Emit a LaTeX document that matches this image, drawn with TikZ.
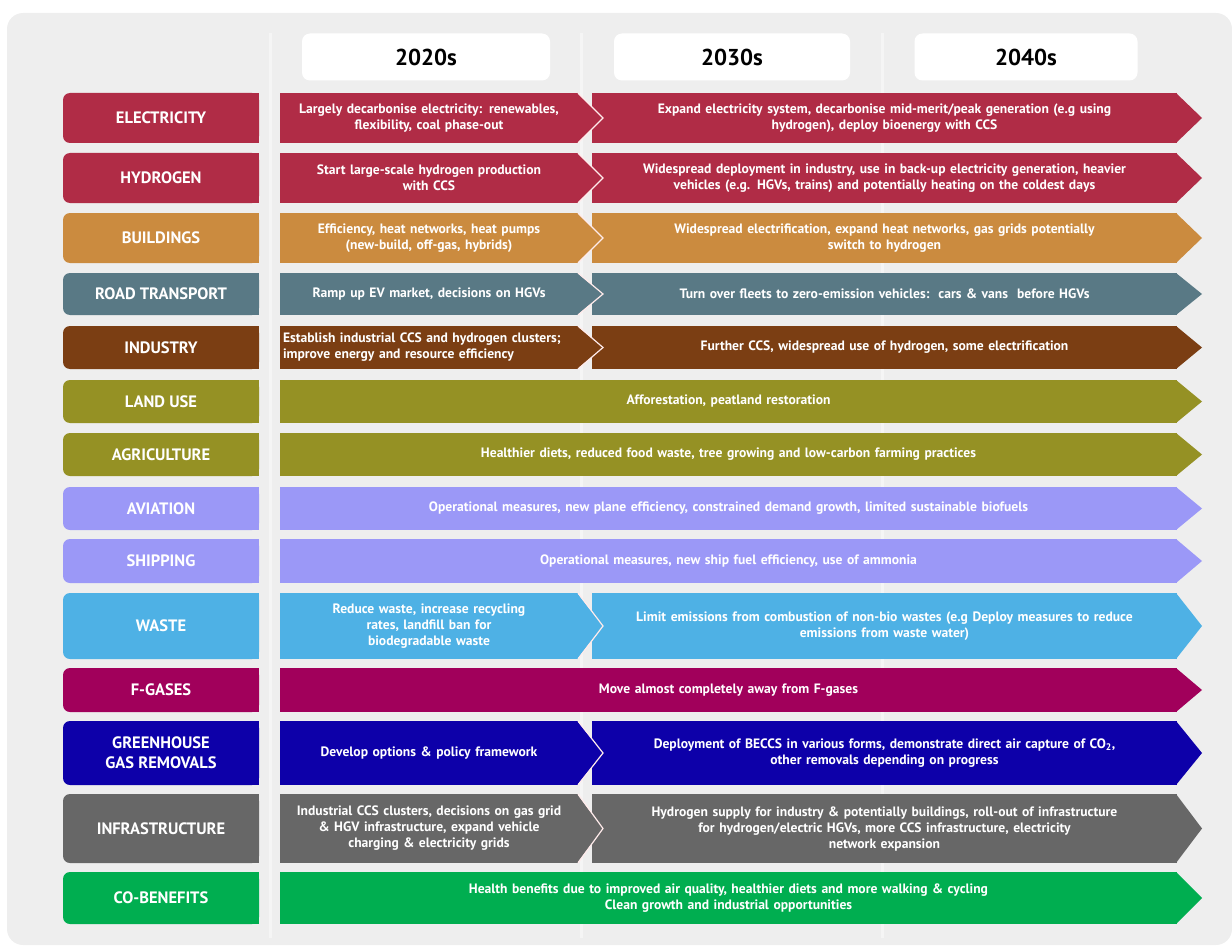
\documentclass[tikz,border=0pt]{standalone}
\usepackage{fontspec}
\setmainfont{PT Sans}
\usetikzlibrary{positioning}
\definecolor{panel}{HTML}{EEEEEE}
\definecolor{elecred}{HTML}{B02C46}
\definecolor{bldorange}{HTML}{CB8B3F}
\definecolor{roadslate}{HTML}{597985}
\definecolor{indbrown}{HTML}{7B3E13}
\definecolor{landolive}{HTML}{959124}
\definecolor{airlilac}{HTML}{9B98F7}
\definecolor{wasteblue}{HTML}{4EB1E5}
\definecolor{fgasplum}{HTML}{A1005B}
\definecolor{ggrblue}{HTML}{0D00A9}
\definecolor{infragrey}{HTML}{676767}
\definecolor{cobgreen}{HTML}{00AE50}

\begin{document}
\begin{tikzpicture}[x=1pt,y=-1pt]

    \tikzstyle{lbl}=[rectangle, rounded corners=7pt, minimum width=196pt, inner sep=0pt, outer sep=0pt, text=white, align=center, font=\fontsize{16.5}{20}\selectfont\bfseries]
    \tikzstyle{bar}=[rectangle, inner sep=0pt, outer sep=0pt, text=white, align=center, font=\fontsize{13.6}{16}\selectfont\bfseries]
    \tikzstyle{now}=[bar, minimum width=298pt, text width=298pt]
    \tikzstyle{later}=[bar, minimum width=585pt, text width=585pt]
    \tikzstyle{whole}=[bar, minimum width=897pt, text width=897pt]
    \tikzstyle{hdr}=[rectangle, fill=white, rounded corners=8pt, minimum height=47pt, font=\fontsize{23}{27}\selectfont\bfseries]
    \tikzstyle{colline}=[draw=white, line width=3pt, opacity=0.45]
    \tikzstyle{tipline}=[draw=white!92!red, line width=1.2pt]

    \useasboundingbox (0,0) rectangle (1232,947);
    \fill[panel, rounded corners=16pt] (7,13) rectangle (1232,945);

    % column rules
    \draw[colline] (270,33) -- (270,938);
    \draw[colline] (581,33) -- (581,938);
    \draw[colline] (882,33) -- (882,938);

    % decades
    \node (d2020) at (426,57)[hdr, minimum width=248pt]{2020s};
    \node (d2030) at (732,57)[hdr, minimum width=236pt]{2030s};
    \node (d2040) at (1026,57)[hdr, minimum width=223pt]{2040s};

    % sectors
    \node (elec) at (161,118)[lbl, fill=elecred, minimum height=50pt]{ELECTRICITY};
    \node (elec1) [now, right=21pt of elec, fill=elecred, minimum height=50pt]{Largely decarbonise electricity: renewables,\\flexibility, coal phase-out};
    \node (elec2) [later, right=333pt of elec, fill=elecred, minimum height=50pt]{Expand electricity system, decarbonise mid-merit/peak generation (e.g using\\hydrogen), deploy bioenergy with CCS};

    \node (hyd) [lbl, below=10pt of elec, fill=elecred, minimum height=50pt]{HYDROGEN};
    \node (hyd1) [now, right=21pt of hyd, fill=elecred, minimum height=50pt]{Start large-scale hydrogen production\\with CCS};
    \node (hyd2) [later, right=333pt of hyd, fill=elecred, minimum height=50pt]{Widespread deployment in industry, use in back-up electricity generation, heavier\\vehicles (e.g. HGVs, trains) and potentially heating on the coldest days};

    \node (bld) [lbl, below=10pt of hyd, fill=bldorange, minimum height=50pt]{BUILDINGS};
    \node (bld1) [now, right=21pt of bld, fill=bldorange, minimum height=50pt]{Efficiency, heat networks, heat pumps\\(new-build, off-gas, hybrids)};
    \node (bld2) [later, right=333pt of bld, fill=bldorange, minimum height=50pt]{Widespread electrification, expand heat networks, gas grids potentially\\switch to hydrogen};

    \node (road) [lbl, below=10pt of bld, fill=roadslate, minimum height=42pt]{ROAD TRANSPORT};
    \node (road1) [now, right=21pt of road, fill=roadslate, minimum height=42pt]{Ramp up EV market, decisions on HGVs};
    \node (road2) [later, right=333pt of road, fill=roadslate, minimum height=42pt]{Turn over fleets to zero-emission vehicles:\ \ cars \& vans\ \ before HGVs};

    \node (ind) [lbl, below=11pt of road, fill=indbrown, minimum height=43pt]{INDUSTRY};
    \node (ind1) [now, right=21pt of ind, fill=indbrown, minimum height=43pt, align=left, inner xsep=3pt, text width=292pt]{Establish industrial CCS and hydrogen clusters;\\improve energy and resource efficiency};
    \node (ind2) [later, right=333pt of ind, fill=indbrown, minimum height=43pt]{Further CCS, widespread use of hydrogen, some electrification};

    \node (land) [lbl, below=11pt of ind, fill=landolive, minimum height=43pt]{LAND USE};
    \node (land1) [whole, right=21pt of land, fill=landolive, minimum height=43pt]{Afforestation, peatland restoration};

    \node (agri) [lbl, below=10pt of land, fill=landolive, minimum height=43pt]{AGRICULTURE};
    \node (agri1) [whole, right=21pt of agri, fill=landolive, minimum height=43pt]{Healthier diets, reduced food waste, tree growing and low-carbon farming practices};

    \node (avi) [lbl, below=11pt of agri, fill=airlilac, minimum height=43pt]{AVIATION};
    \node (avi1) [whole, right=21pt of avi, fill=airlilac, minimum height=43pt]{Operational measures, new plane efficiency, constrained demand growth, limited sustainable biofuels};

    \node (ship) [lbl, below=9pt of avi, fill=airlilac, minimum height=44pt]{SHIPPING};
    \node (ship1) [whole, right=21pt of ship, fill=airlilac, minimum height=44pt]{Operational measures, new ship fuel efficiency, use of ammonia};

    \node (waste) [lbl, below=10pt of ship, fill=wasteblue, minimum height=66pt]{WASTE};
    \node (waste1) [now, right=21pt of waste, fill=wasteblue, minimum height=66pt]{Reduce waste, increase recycling\\rates, landfill ban for\\biodegradable waste};
    \node (waste2) [later, right=333pt of waste, fill=wasteblue, minimum height=66pt]{Limit emissions from combustion of non-bio wastes (e.g Deploy measures to reduce\\emissions from waste water)};

    \node (fgas) [lbl, below=9pt of waste, fill=fgasplum, minimum height=44pt]{F-GASES};
    \node (fgas1) [whole, right=21pt of fgas, fill=fgasplum, minimum height=44pt]{Move almost completely away from F-gases};

    \node (ggr) [lbl, below=9pt of fgas, fill=ggrblue, minimum height=64pt]{GREENHOUSE\\GAS REMOVALS};
    \node (ggr1) [now, right=21pt of ggr, fill=ggrblue, minimum height=64pt]{Develop options \& policy framework};
    \node (ggr2) [later, right=333pt of ggr, fill=ggrblue, minimum height=64pt]{Deployment of BECCS in various forms, demonstrate direct air capture of CO\textsubscript{2},\\other removals depending on progress};

    \node (infra) [lbl, below=9pt of ggr, fill=infragrey, minimum height=69pt]{INFRASTRUCTURE};
    \node (infra1) [now, right=21pt of infra, fill=infragrey, minimum height=69pt]{Industrial CCS clusters, decisions on gas grid\\\& HGV infrastructure, expand vehicle\\charging \& electricity grids};
    \node (infra2) [later, right=333pt of infra, fill=infragrey, minimum height=69pt]{Hydrogen supply for industry \& potentially buildings, roll-out of infrastructure\\for hydrogen/electric HGVs, more CCS infrastructure, electricity\\network expansion};

    \node (cob) [lbl, below=9pt of infra, fill=cobgreen, minimum height=52pt]{CO-BENEFITS};
    \node (cob1) [whole, right=21pt of cob, fill=cobgreen, minimum height=52pt]{Health benefits due to improved air quality, healthier diets and more walking \& cycling\\Clean growth and industrial opportunities};

    % square off the right side of the sector labels
    \foreach \n/\c in {elec/elecred, hyd/elecred, bld/bldorange, road/roadslate, ind/indbrown, land/landolive, agri/landolive, avi/airlilac, ship/airlilac, waste/wasteblue, fgas/fgasplum, ggr/ggrblue, infra/infragrey, cob/cobgreen}
      \fill[\c] ([xshift=-9pt]\n.north east) rectangle (\n.south east);

    % arrow heads at the far end
    \foreach \n/\c in {elec2/elecred, hyd2/elecred, bld2/bldorange, road2/roadslate, ind2/indbrown, land1/landolive, agri1/landolive, avi1/airlilac, ship1/airlilac, waste2/wasteblue, fgas1/fgasplum, ggr2/ggrblue, infra2/infragrey, cob1/cobgreen}
      \fill[\c] ([xshift=-1pt]\n.north east) -- ([xshift=25pt]\n.east) -- ([xshift=-1pt]\n.south east) -- cycle;

    % 2020s heads over the next decade
    \foreach \n/\c in {elec1/elecred, hyd1/elecred, bld1/bldorange, road1/roadslate, ind1/indbrown, waste1/wasteblue, ggr1/ggrblue, infra1/infragrey} {
      \fill[\c] ([xshift=-1pt]\n.north east) -- ([xshift=25pt]\n.east) -- ([xshift=-1pt]\n.south east) -- cycle;
      \draw[tipline] (\n.north east) -- ([xshift=25pt]\n.east) -- (\n.south east);
    }

\end{tikzpicture}
\end{document}
